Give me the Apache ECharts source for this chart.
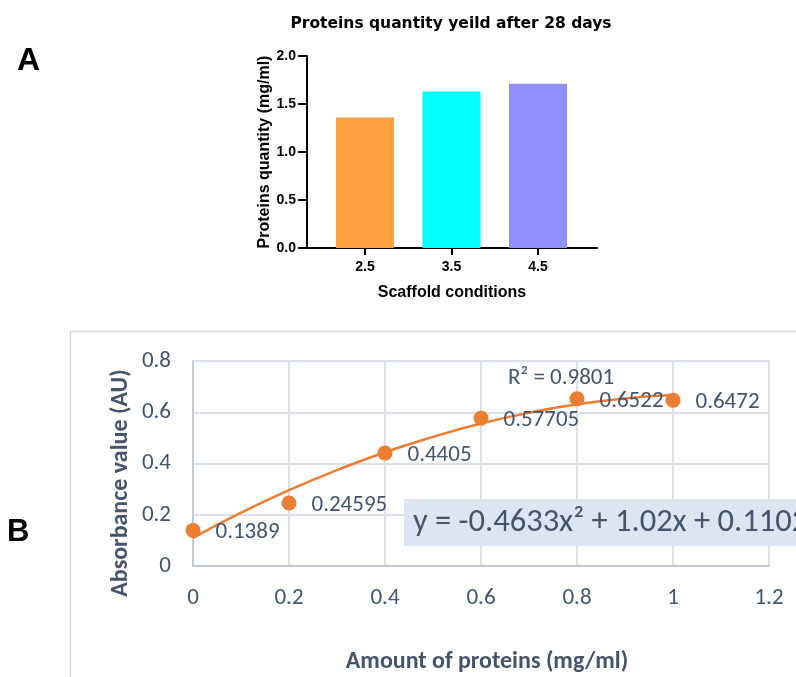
<!DOCTYPE html>
<html>
<head>
<meta charset="utf-8">
<script src="https://cdn.jsdelivr.net/npm/echarts@6/dist/echarts.min.js"></script>
<style>
html,body{margin:0;padding:0;background:#fff;}
#c{width:796px;height:677px;}
</style>
</head>
<body>
<div id="c"></div>
<script>
// Panel A data
const barCategories = [2.5, 3.5, 4.5];
const barValues = [1.36, 1.63, 1.71];
const barColors = ['#FFA042', '#00FFFF', '#8F8FFF'];

// Panel B data (standard curve)
const stdX = [0, 0.2, 0.4, 0.6, 0.8, 1.0];
const stdY = [0.1389, 0.24595, 0.4405, 0.57705, 0.6522, 0.6472];
const stdLabels = ['0.1389', '0.24595', '0.4405', '0.57705', '0.6522', '0.6472'];
// trendline
const trendX = [0, 0.1, 0.2, 0.3, 0.4, 0.5, 0.6, 0.7, 0.8, 0.9, 1.0];
const trendY = [0.110, 0.208, 0.296, 0.374, 0.444, 0.504, 0.556, 0.598, 0.631, 0.654, 0.667];

const boldFont = "'Liberation Sans', Arial, sans-serif";
const bFont = "Carlito, 'Open Sans', sans-serif";
const slate = '#44546A';

const chart = echarts.init(document.getElementById('c'), null, {renderer: 'canvas'});
chart.setOption({
  animation: false,
  backgroundColor: '#ffffff',
  title: {
    text: 'Proteins quantity yeild after 28 days',
    left: 446, top: 11, textAlign: 'center',
    textStyle: {fontFamily: "'DejaVu Sans', sans-serif", fontWeight: 'bold', fontSize: 15.5, color: '#000'}
  },
  grid: [
    {left: 307, top: 56, width: 290, height: 192},
    {left: 193, top: 361, width: 576, height: 205}
  ],
  xAxis: [
    {
      gridIndex: 0, type: 'value', min: 1.8295, max: 5.182,
      axisLine: {show: true, lineStyle: {color: '#000', width: 2}},
      axisTick: {show: true, customValues: barCategories, length: 7, lineStyle: {color: '#000', width: 2}},
      splitLine: {show: false},
      axisLabel: {customValues: barCategories, fontFamily: boldFont, fontWeight: 'bold', fontSize: 14, color: '#000', margin: 12,
        formatter: v => Number(v).toFixed(1)},
      name: 'Scaffold conditions', nameLocation: 'middle', nameGap: 37,
      nameTextStyle: {fontFamily: boldFont, fontWeight: 'bold', fontSize: 16, color: '#000'}
    },
    {
      gridIndex: 1, type: 'value', min: 0, max: 1.2, interval: 0.2,
      axisLine: {show: true, lineStyle: {color: '#C3CAD6', width: 2}},
      axisTick: {show: false},
      splitLine: {show: true, lineStyle: {color: '#DCE0E8', width: 2}},
      axisLabel: {fontFamily: bFont, fontSize: 23, color: slate, margin: 21,
        formatter: v => String(+v.toFixed(1))}
    }
  ],
  yAxis: [
    {
      gridIndex: 0, type: 'value', min: 0, max: 2, interval: 0.5,
      axisLine: {show: true, lineStyle: {color: '#000', width: 2}},
      axisTick: {show: true, length: 9, lineStyle: {color: '#000', width: 2}},
      splitLine: {show: false},
      axisLabel: {fontFamily: boldFont, fontWeight: 'bold', fontSize: 14, color: '#000', margin: 11,
        formatter: v => v.toFixed(1)},
      name: 'Proteins quantity (mg/ml)', nameLocation: 'middle', nameGap: 31,
      nameTextStyle: {fontFamily: boldFont, fontWeight: 'bold', fontSize: 16, color: '#000'}
    },
    {
      gridIndex: 1, type: 'value', min: 0, max: 0.8, interval: 0.2,
      axisLine: {show: true, lineStyle: {color: '#C3CAD6', width: 2}},
      axisTick: {show: false},
      splitLine: {show: true, lineStyle: {color: '#DCE0E8', width: 2}},
      axisLabel: {fontFamily: bFont, fontSize: 23, color: slate, margin: 22,
        formatter: v => String(+v.toFixed(1))}
    }
  ],
  series: [
    {
      type: 'bar', xAxisIndex: 0, yAxisIndex: 0, barWidth: 58,
      data: barValues.map((v, i) => ({value: [barCategories[i], v], itemStyle: {color: barColors[i]}}))
    },
    {
      type: 'line', xAxisIndex: 1, yAxisIndex: 1, smooth: true, symbol: 'none',
      lineStyle: {color: '#ED7D31', width: 2.5},
      data: trendX.map((x, i) => [x, trendY[i]]), z: 3
    },
    {
      type: 'scatter', xAxisIndex: 1, yAxisIndex: 1, symbolSize: 15,
      itemStyle: {color: '#ED7D31', opacity: 1}, z: 4,
      data: stdX.map((x, i) => [x, stdY[i]]),
      label: {show: true, position: 'right', distance: 15, offset: [0, 2],
        fontFamily: bFont, fontSize: 23, color: slate, opacity: 1,
        formatter: p => stdLabels[p.dataIndex]}
    }
  ],
  graphic: [
    {type: 'text', left: 17, top: 45, style: {text: 'A', font: "bold 32px " + boldFont, fill: '#000'}},
    {type: 'text', left: 7, top: 517, style: {text: 'B', font: "bold 31px " + boldFont, fill: '#000'}},
    {type: 'line', shape: {x1: 70, y1: 331.5, x2: 796, y2: 331.5}, style: {stroke: '#D9D9D9', lineWidth: 1.5}, silent: true},
    {type: 'line', shape: {x1: 70.5, y1: 331, x2: 70.5, y2: 677}, style: {stroke: '#D9D9D9', lineWidth: 1.5}, silent: true},
    {type: 'rect', shape: {x: 404, y: 499, width: 400, height: 47}, style: {fill: '#DCE6F2'}, z: 10},
    {type: 'text', x: 413, y: 523, z: 11,
      style: {text: 'y = -0.4633x² + 1.02x + 0.1102', font: "32.5px " + bFont, fill: slate, verticalAlign: 'middle'}},
    {type: 'text', x: 508, y: 378, z: 11,
      style: {text: 'R² = 0.9801', font: "23px " + bFont, fill: slate, verticalAlign: 'middle'}},
    {type: 'text', x: 121, y: 483, rotation: Math.PI / 2, z: 11,
      style: {text: 'Absorbance value (AU)', font: "bold 24px " + bFont, fill: slate, align: 'center', verticalAlign: 'middle'}},
    {type: 'text', x: 487, y: 662, z: 11,
      style: {text: 'Amount of proteins (mg/ml)', font: "bold 24px " + bFont, fill: slate, align: 'center', verticalAlign: 'middle'}}
  ]
});
</script>
</body>
</html>
